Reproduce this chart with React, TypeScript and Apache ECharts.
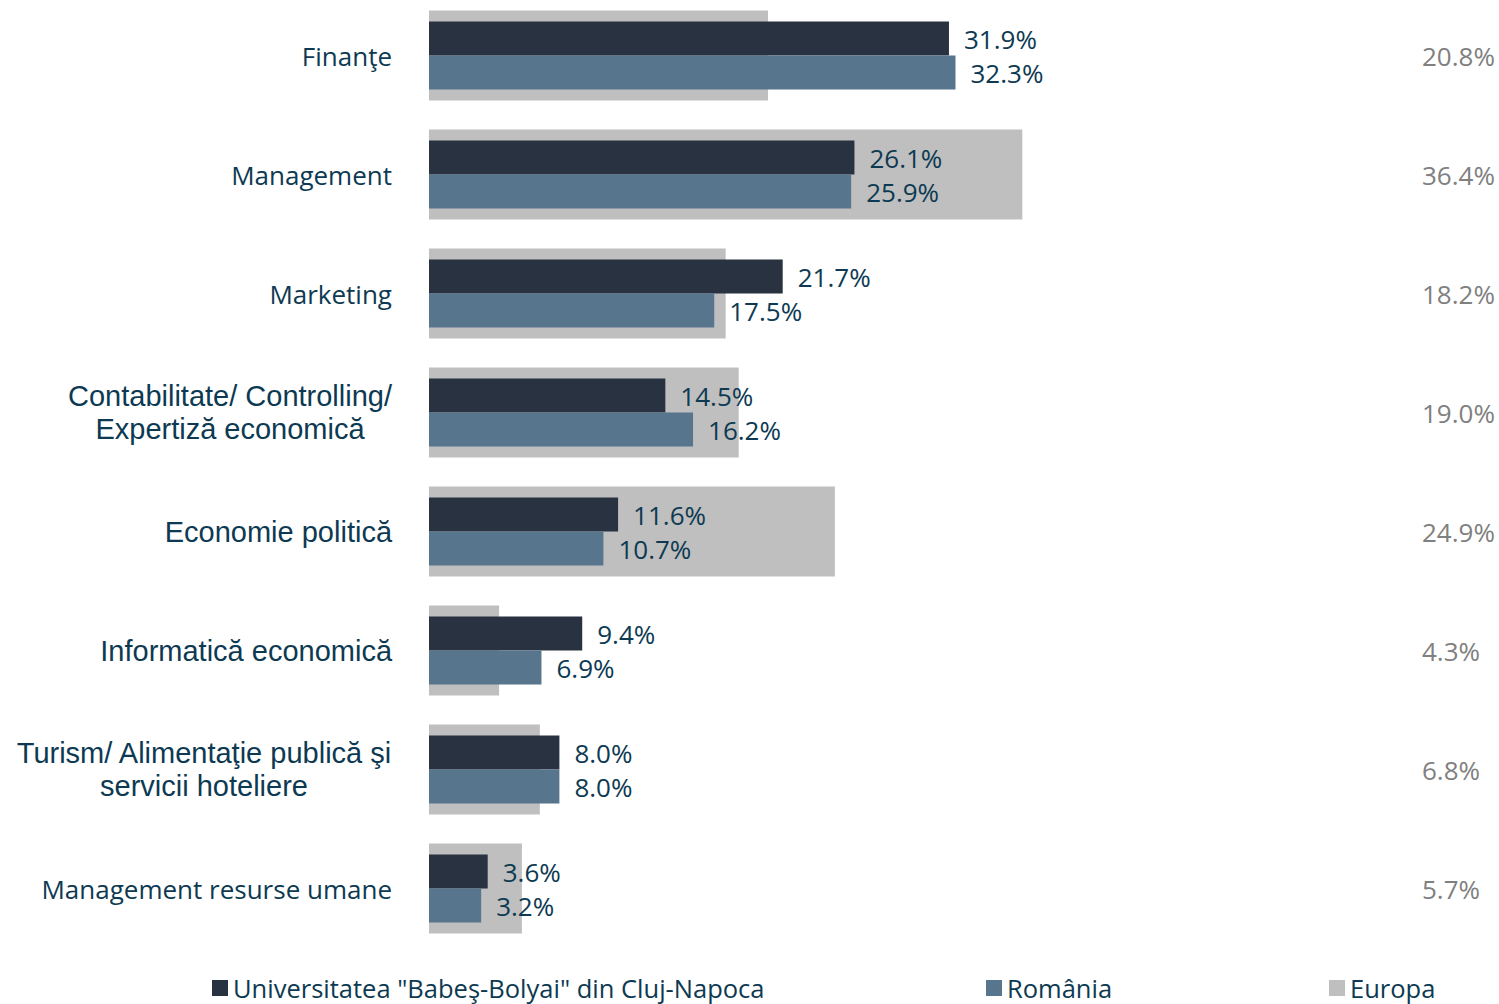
import React, { useEffect, useRef } from "react";
import * as echarts from "echarts";

const categories = [
  "Finanţe",
  "Management",
  "Marketing",
  "Contabilitate/ Controlling/\nExpertiză economică",
  "Economie politică",
  "Informatică economică",
  "Turism/ Alimentaţie publică şi\nservicii hoteliere",
  "Management resurse umane",
];
const calibriLike = ["Finanţe", "Management", "Marketing", "Management resurse umane"];
const ubbValues = [31.9, 26.1, 21.7, 14.5, 11.6, 9.4, 8.0, 3.6];
const romaniaValues = [32.3, 25.9, 17.5, 16.2, 10.7, 6.9, 8.0, 3.2];
const europaValues = [20.8, 36.4, 18.2, 19.0, 24.9, 4.3, 6.8, 5.7];

const seriesNames = ['Universitatea "Babeş-Bolyai" din Cluj-Napoca', "România", "Europa"];

const TEXT = "#0d3a52";
const FONT_A = "'Open Sans', 'Noto Sans', sans-serif";
const FONT_B = "'Liberation Sans', Arial, sans-serif";

export default function App() {
  const ref = useRef<HTMLDivElement>(null);
  useEffect(() => {
    if (!ref.current) return;
    const chart = echarts.init(ref.current, null, { renderer: "svg" });
    const valueLabel = {
      show: true,
      position: "right",
      distance: 15,
      color: TEXT,
      fontSize: 26,
      fontFamily: FONT_A,
      formatter: (p: any) => `${Number(p.value).toFixed(1)}%`,
    };
    const legendBase = (name: string, left: number) => ({
      data: [{ name, icon: "rect" }],
      left,
      top: 979,
      padding: 0,
      itemWidth: 16,
      itemHeight: 16,
      selectedMode: false,
      textStyle: { fontSize: 25.5, lineHeight: 24, color: TEXT, fontFamily: FONT_A },
    });
    chart.setOption({
      animation: false,
      backgroundColor: "#ffffff",
      grid: { left: 429, width: 978, top: 0, height: 952, containLabel: false },
      legend: [
        legendBase(seriesNames[0], 212),
        legendBase(seriesNames[1], 986),
        legendBase(seriesNames[2], 1329),
      ],
      xAxis: {
        type: "value",
        min: 0,
        max: 60,
        show: false,
        splitLine: { show: false },
      },
      yAxis: [
        {
          type: "category",
          data: categories,
          inverse: true,
          axisLine: { show: false },
          axisTick: { show: false },
          axisLabel: {
            margin: 37,
            color: TEXT,
            formatter: (v: string) => {
              if (calibriLike.includes(v)) return `{a|${v}}`;
              return v
                .split("\n")
                .map((line) => `{b|${line}}`)
                .join("\n");
            },
            rich: {
              a: { fontSize: 26, fontFamily: FONT_A, color: TEXT },
              b: { fontSize: 29, fontFamily: FONT_B, color: TEXT, lineHeight: 33, align: "center" },
            },
          },
        },
        {
          type: "category",
          data: categories,
          inverse: true,
          position: "right",
          axisLine: { show: false },
          axisTick: { show: false },
          axisLabel: {
            margin: 15,
            color: "#808080",
            fontSize: 26,
            fontFamily: FONT_A,
            formatter: (_v: string, i: number) => `${europaValues[i].toFixed(1)}%`,
          },
        },
      ],
      series: [
        {
          name: seriesNames[2],
          type: "bar",
          yAxisIndex: 1,
          data: europaValues,
          barWidth: 90,
          itemStyle: { color: "#bfbfbf" },
          z: 1,
        },
        {
          name: seriesNames[0],
          type: "bar",
          yAxisIndex: 0,
          data: ubbValues,
          barWidth: 34,
          barGap: "0%",
          itemStyle: { color: "#293241" },
          label: valueLabel,
          z: 2,
        },
        {
          name: seriesNames[1],
          type: "bar",
          yAxisIndex: 0,
          data: romaniaValues,
          barWidth: 34,
          barGap: "0%",
          itemStyle: { color: "#58758e" },
          label: valueLabel,
          z: 2,
        },
      ],
    });
    return () => chart.dispose();
  }, []);
  return (
    <div
      ref={ref}
      style={{ position: "fixed", left: 0, top: -4, width: 1499, height: 1008 }}
    />
  );
}
